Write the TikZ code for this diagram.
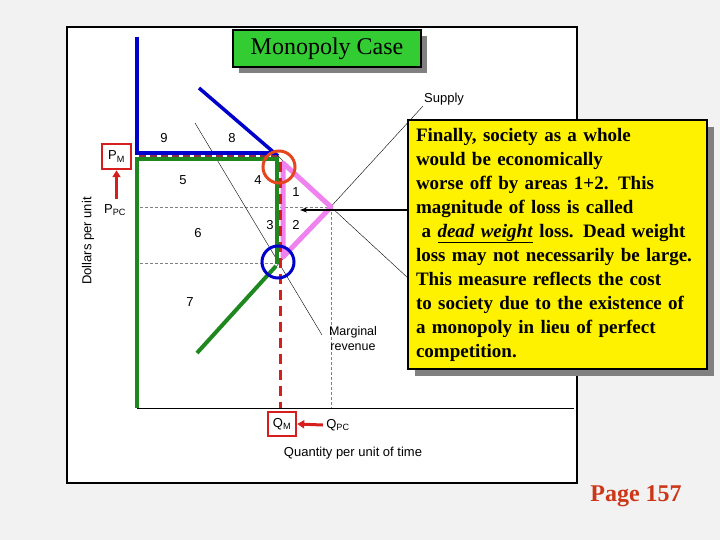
\documentclass[tikz,border=0pt]{standalone}
\usepackage{fontspec}
\setmainfont{Liberation Serif}
\setsansfont{Liberation Sans}
\usepackage{tikz}
\usetikzlibrary{arrows.meta, positioning, calc, shadows}
\definecolor{slidegray}{RGB}{242, 242, 242}
\definecolor{shadowgray}{RGB}{128, 128, 128}
\definecolor{titlegreen}{RGB}{51, 204, 51}
\definecolor{curvegreen}{RGB}{30, 135, 30}
\definecolor{curveblue}{RGB}{0, 0, 205}
\definecolor{losspink}{RGB}{240, 130, 240}
\definecolor{markred}{RGB}{215, 30, 30}
\definecolor{ringred}{RGB}{230, 70, 30}
\definecolor{pmbrown}{RGB}{140, 45, 70}
\definecolor{notered}{RGB}{205, 55, 25}

\begin{document}
\begin{tikzpicture}[x=1pt, y=-1pt,
  every node/.style={font=\sffamily\fontsize{13}{14}\selectfont},
  guide/.style={gray, thin, dash pattern=on 3pt off 2pt},
  redbox/.style={draw=markred, line width=2.5pt, minimum width=29pt, minimum height=25pt, inner sep=0pt},
  ring/.style={circle, draw, line width=3pt, minimum size=32pt, inner sep=0pt},
  redarrow/.style={markred, line width=3pt, -{Triangle[length=7pt, width=8pt]}}]

  % ---------- Slide ----------
  \fill[slidegray] (0,0) rectangle (720,540);
  \useasboundingbox (0,0) rectangle (720,540);
  \draw[fill=white, line width=2pt] (67,27) rectangle (577,483);

  % ---------- Points of the curves ----------
  \coordinate (origin) at (137,408);
  \coordinate (xend) at (574,408);
  \coordinate (ytop) at (137,37);
  \coordinate (pm) at (137,153);
  \coordinate (dtop) at (199,88);
  \coordinate (dmon) at (278,156);
  \coordinate (eq) at (331,207);
  \coordinate (dend) at (408,278);
  \coordinate (slow) at (197,353);
  \coordinate (smc) at (276,266);
  \coordinate (stop) at (423,106);
  \coordinate (mrtop) at (195,123);
  \coordinate (mrend) at (322,335);

  % ---------- Guides ----------
  \draw[guide] (140,207) -- (eq);
  \draw[guide] (140,263) -- (278,263);
  \draw[guide] (eq) -- (eq |- origin);

  % ---------- Thin curves ----------
  \draw (origin) -- (xend);
  \draw (mrtop) -- (mrend);
  \draw (dmon) -- (eq) -- (dend);
  \draw (slow) -- (stop);
  \node[anchor=south west, inner sep=1pt] (supply) at (stop) {Supply};
  \node[align=center, font=\sffamily\fontsize{12.5}{15}\selectfont] (mr) at (353,339) {Marginal\\revenue};

  % ---------- Thick curves ----------
  \draw[curveblue, line width=3.5pt] (ytop) -- (pm) -- (277,153);
  \draw[curveblue, line width=3.5pt] (dtop) -- (dmon);
  \draw[white, line width=2pt] (139,156) -- (277,156);
  \draw[pmbrown, line width=2pt, dash pattern=on 7pt off 4pt] (139,156) -- (277,156);
  \draw[curvegreen, line width=4pt] (origin) -- (137,159) -- (277,159) -- (277,264);
  \draw[curvegreen, line width=4pt] (slow) -- (smc);
  \draw[losspink, line width=5pt, line join=round] (283,163) -- (eq) -- (283,257) -- cycle;
  \draw[markred, line width=3pt, dash pattern=on 10pt off 6pt] (280,162) -- (280,408);

  % ---------- Rings ----------
  \node[ring, draw=ringred] (mring) at (279,167) {};
  \node[ring, draw=curveblue] (cring) at (278,262) {};

  % ---------- Areas ----------
  \foreach \n/\x/\y in {9/164/138, 8/232/138, 5/183/180, 4/258/180, 1/296/192,
                        3/270/225, 2/296/225, 6/198/233, 7/190/302}{
    \node (area\n) at (\x,\y) {\n};
  }

  % ---------- Axes labels ----------
  \node[redbox] (pmbox) at (116.5,156.5) {P\textsubscript{M}};
  \node (ppc) at (115,210) {P\textsubscript{PC}};
  \draw[redarrow] (ppc.north -| pmbox) ++(0,-2) coordinate (ppcup) -- (pmbox.south);
  \node[rotate=90] (ylab) at (88,241) {Dollars per unit};
  \node[redbox, minimum width=28pt, minimum height=24pt] (qmbox) at (282,424) {Q\textsubscript{M}};
  \node (qpc) at (338,425) {Q\textsubscript{PC}};
  \draw[redarrow] (qpc.west) -- (qmbox.east);
  \node (xlab) at (353,453) {Quantity per unit of time};

  % ---------- Title and note ----------
  \node[draw, line width=2pt, fill=titlegreen, minimum width=188pt, minimum height=37pt,
        font=\rmfamily\fontsize{24}{26}\selectfont,
        drop shadow={shadow xshift=6pt, shadow yshift=-6pt, fill=shadowgray, opacity=1}]
        (title) at (327,48.5) {Monopoly Case};
  \node[draw, line width=2pt, fill=yellow, minimum width=299pt, minimum height=249pt,
        text width=283pt, align=left, inner xsep=8pt,
        font=\rmfamily\bfseries\fontsize{19}{24}\selectfont,
        drop shadow={shadow xshift=7pt, shadow yshift=-7pt, fill=shadowgray, opacity=1}]
        (note) at (557.5,244.5) {Finally, society as a whole\\
        would be economically\\
        worse off by areas 1+2. This\\
        magnitude of loss is called\\
        \hspace{0.3em}a \underline{\textit{dead weight}} loss. Dead weight\\
        loss may not necessarily be large.\\
        This measure reflects the cost\\
        to society due to the existence of\\
        a monopoly in lieu of perfect\\
        competition.};
  \coordinate (dwl) at (300,210);
  \draw[-{Stealth[length=7pt, width=5pt]}, line width=1.2pt] (note.west |- dwl) -- (dwl);

  \node[notered, font=\rmfamily\bfseries\fontsize{24}{26}\selectfont] (page) at (636,496) {Page 157};
\end{tikzpicture}
\end{document}
